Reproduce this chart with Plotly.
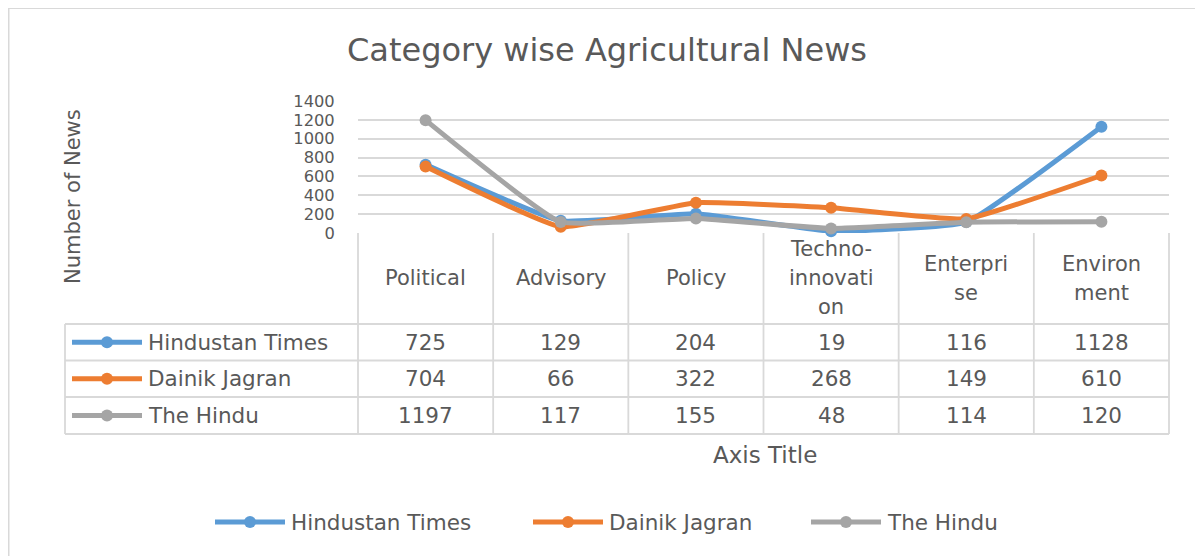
import plotly.graph_objects as go

# ---- data ----
categories = ["Political", "Advisory", "Policy", "Techno-innovation", "Enterprise", "Environment"]
category_lines = [["Political"], ["Advisory"], ["Policy"],
                  ["Techno-", "innovati", "on"], ["Enterpri", "se"], ["Environ", "ment"]]
series_names = ["Hindustan Times", "Dainik Jagran", "The Hindu"]
hindustan_times = [725, 129, 204, 19, 116, 1128]
dainik_jagran = [704, 66, 322, 268, 149, 610]
the_hindu = [1197, 117, 155, 48, 114, 120]
series_values = [hindustan_times, dainik_jagran, the_hindu]
colors = ["#5B9BD5", "#ED7D31", "#A5A5A5"]
y_ticks = [0, 200, 400, 600, 800, 1000, 1200, 1400]

# page is offset by the body margin; figure fills the rest of the window
OFF = 8
FW, FH = 1195, 548
FONT = "DejaVu Sans"
TXT = "#595959"
GRID = "#D9D9D9"


def px(x):
    return (x - OFF) / FW


def py(y):
    return 1 - (y - OFF) / FH


# plot area (window pixels)
PL, PR, PT, PB = 358, 1169, 101, 233
n = len(categories)
colw = (PR - PL) / n

fig = go.Figure()
for name, vals, c in zip(series_names, series_values, colors):
    fig.add_trace(go.Scatter(
        x=list(range(n)), y=vals, name=name, mode="lines+markers",
        line=dict(color=c, width=5, shape="spline", smoothing=0.35),
        marker=dict(color=c, size=12), showlegend=False, cliponaxis=False,
    ))

shapes = []
annotations = []

# outer chart border
shapes.append(dict(type="rect", xref="paper", yref="paper",
                   x0=px(8.5), x1=1.05, y0=-0.05, y1=py(8),
                   line=dict(color=GRID, width=2), fillcolor="rgba(0,0,0,0)", layer="below"))

# table geometry
row_bounds = [324, 360.5, 397, 434]
row_centers = [(row_bounds[i] + row_bounds[i + 1]) / 2 for i in range(3)]
TL = 65


def hline(x0, x1, y):
    shapes.append(dict(type="line", xref="paper", yref="paper", x0=px(x0), x1=px(x1),
                       y0=py(y), y1=py(y), line=dict(color=GRID, width=1.8)))


def vline(x, y0, y1):
    shapes.append(dict(type="line", xref="paper", yref="paper", x0=px(x), x1=px(x),
                       y0=py(y0), y1=py(y1), line=dict(color=GRID, width=1.8)))


for yb in row_bounds:
    hline(TL, PR, yb)
vline(TL, row_bounds[0], row_bounds[-1])
for k in range(n + 1):
    vline(PL + k * colw, PB, row_bounds[-1])


def legend_symbol(x0, x1, yc, color):
    shapes.append(dict(type="line", xref="paper", yref="paper", x0=px(x0), x1=px(x1),
                       y0=py(yc), y1=py(yc), line=dict(color=color, width=5)))
    xm = (x0 + x1) / 2
    r = 6
    shapes.append(dict(type="circle", xref="paper", yref="paper",
                       x0=px(xm - r), x1=px(xm + r), y0=py(yc + r), y1=py(yc - r),
                       fillcolor=color, line=dict(color=color, width=0)))


# header: category labels
for i, lines in enumerate(category_lines):
    m = len(lines)
    for j, t in enumerate(lines):
        yy = 278 + (j - (m - 1) / 2) * 29
        annotations.append(dict(text=t, xref="x", yref="paper", x=i, y=py(yy),
                                showarrow=False, xanchor="center", yanchor="middle",
                                font=dict(family=FONT, size=21, color=TXT)))

# data rows
for r, (name, vals, c) in enumerate(zip(series_names, series_values, colors)):
    yc = row_centers[r]
    legend_symbol(72, 142, yc, c)
    annotations.append(dict(text=name, xref="paper", yref="paper", x=px(146), y=py(yc),
                            showarrow=False, xanchor="left", yanchor="middle",
                            font=dict(family=FONT, size=21.5, color=TXT)))
    for i, v in enumerate(vals):
        annotations.append(dict(text=str(v), xref="x", yref="paper", x=i, y=py(yc),
                                showarrow=False, xanchor="center", yanchor="middle",
                                font=dict(family=FONT, size=21.5, color=TXT)))

# axis titles
annotations.append(dict(text="Axis Title", xref="paper", yref="paper", x=px(765), y=py(455),
                        showarrow=False, xanchor="center", yanchor="middle",
                        font=dict(family=FONT, size=23, color=TXT)))
annotations.append(dict(text="Number of News", xref="paper", yref="paper", x=px(73), y=py(197),
                        showarrow=False, xanchor="center", yanchor="middle", textangle=-90,
                        font=dict(family=FONT, size=21, color=TXT)))

# bottom legend
leg_items = [(215, 285, 289), (533, 603, 607), (811, 881, 885)]
for (x0, x1, xt), name, c in zip(leg_items, series_names, colors):
    legend_symbol(x0, x1, 522, c)
    annotations.append(dict(text=name, xref="paper", yref="paper", x=px(xt), y=py(522),
                            showarrow=False, xanchor="left", yanchor="middle",
                            font=dict(family=FONT, size=21.5, color=TXT)))

fig.update_layout(
    width=FW, height=FH,
    margin=dict(l=0, r=0, t=0, b=0, pad=0, autoexpand=False),
    paper_bgcolor="white", plot_bgcolor="white",
    title=dict(text="Category wise Agricultural News", x=px(607), y=py(50),
               xanchor="center", yanchor="middle", automargin=False,
               font=dict(family=FONT, size=32, color=TXT)),
    xaxis=dict(domain=[px(PL), px(PR)], range=[-0.5, n - 0.5], showticklabels=False,
               showgrid=False, zeroline=False, showline=False, fixedrange=True,
               automargin=False),
    yaxis=dict(domain=[py(PB), py(PT)], range=[0, 1400], tickvals=y_ticks,
               showgrid=True, gridcolor=GRID, gridwidth=1.8, zeroline=False, showline=False,
               ticks="outside", ticklen=19, tickcolor="rgba(0,0,0,0)", automargin=False,
               tickfont=dict(family=FONT, size=16.3, color=TXT)),
    shapes=shapes, annotations=annotations, showlegend=False,
)

fig.write_html("out.html")
